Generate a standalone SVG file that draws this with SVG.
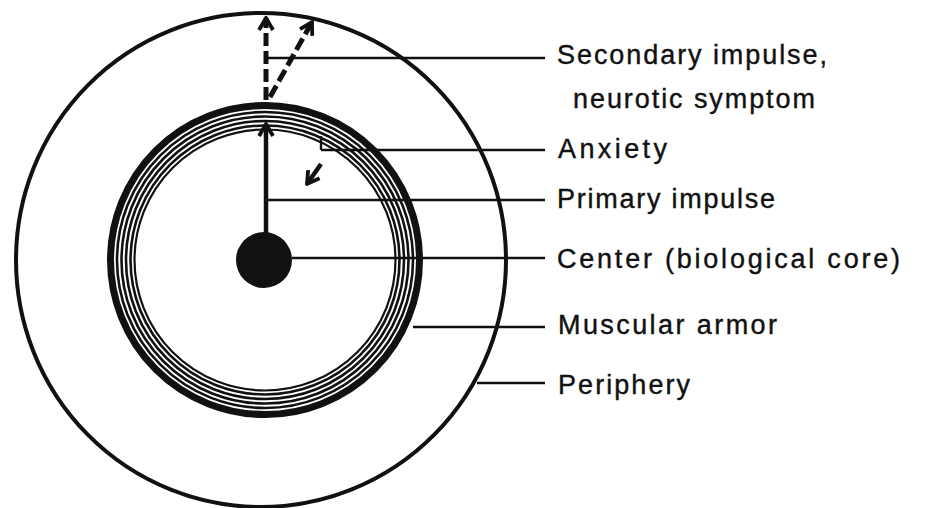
<svg xmlns="http://www.w3.org/2000/svg" width="940" height="508" viewBox="0 0 940 508">
<style>
.lbl{font-family:"Liberation Sans","DejaVu Sans",sans-serif;font-size:27px;fill:#111;stroke:#111;stroke-width:0.4}
.lead{stroke:#111;stroke-width:2.4;fill:none}
.ring{fill:none;stroke:#111}
.arr{stroke:#111;fill:none;stroke-width:4.5}
.dash{stroke-dasharray:13 5;stroke-width:5}
</style>
<defs>
<marker id="head" markerUnits="userSpaceOnUse" viewBox="-14 -9 16 18" markerWidth="16" markerHeight="18" refX="0" refY="0" orient="auto">
<path d="M-12,-7 L0,0 L-12,7" fill="none" stroke="#111" stroke-width="3.8"/>
</marker>
</defs>
<rect width="940" height="508" fill="#fff"/>
<g id="periphery">
<ellipse cx="261" cy="260" rx="245" ry="247" class="ring" stroke-width="4"/>
</g>
<g id="armor">
<circle cx="265" cy="260" r="154.5" class="ring" stroke-width="7"/>
<circle cx="265" cy="260" r="148" class="ring" stroke-width="2.6"/>
<circle cx="265" cy="260" r="143.5" class="ring" stroke-width="2.6"/>
<circle cx="265" cy="260" r="139" class="ring" stroke-width="2.6"/>
<circle cx="265" cy="260" r="134.5" class="ring" stroke-width="2.6"/>
<circle cx="265" cy="260" r="130.5" class="ring" stroke-width="2.2"/>
</g>
<g id="core">
<circle cx="264" cy="260" r="28" fill="#111"/>
</g>
<g id="connectors">
<line x1="266" y1="236" x2="266" y2="124" class="arr" marker-end="url(#head)"/>
<line x1="266" y1="100" x2="266" y2="18" class="arr dash" marker-end="url(#head)"/>
<line x1="270" y1="97" x2="312" y2="22" class="arr dash" marker-end="url(#head)"/>
<line x1="321" y1="164" x2="307" y2="184" class="arr" stroke-width="4" marker-end="url(#head)"/>
<path d="M321,136 V150" class="lead" stroke-width="2.5"/>
<line x1="268" y1="58" x2="545" y2="58" class="lead"/>
<line x1="321" y1="150" x2="545" y2="150" class="lead"/>
<line x1="268" y1="200" x2="545" y2="200" class="lead"/>
<line x1="292" y1="258" x2="545" y2="258" class="lead"/>
<line x1="413" y1="327" x2="545" y2="327" class="lead"/>
<line x1="477" y1="383" x2="545" y2="383" class="lead"/>
</g>
<g id="labels">
<text class="lbl" x="557" y="64" textLength="270" lengthAdjust="spacing">Secondary impulse,</text>
<text class="lbl" x="573" y="108" textLength="242" lengthAdjust="spacing">neurotic symptom</text>
<text class="lbl" x="558" y="158" textLength="109" lengthAdjust="spacing">Anxiety</text>
<text class="lbl" x="557" y="208" textLength="218" lengthAdjust="spacing">Primary impulse</text>
<text class="lbl" x="557" y="268" textLength="343" lengthAdjust="spacing">Center (biological core)</text>
<text class="lbl" x="558" y="334" textLength="219" lengthAdjust="spacing">Muscular armor</text>
<text class="lbl" x="558" y="394" textLength="132" lengthAdjust="spacing">Periphery</text>
</g>
</svg>
